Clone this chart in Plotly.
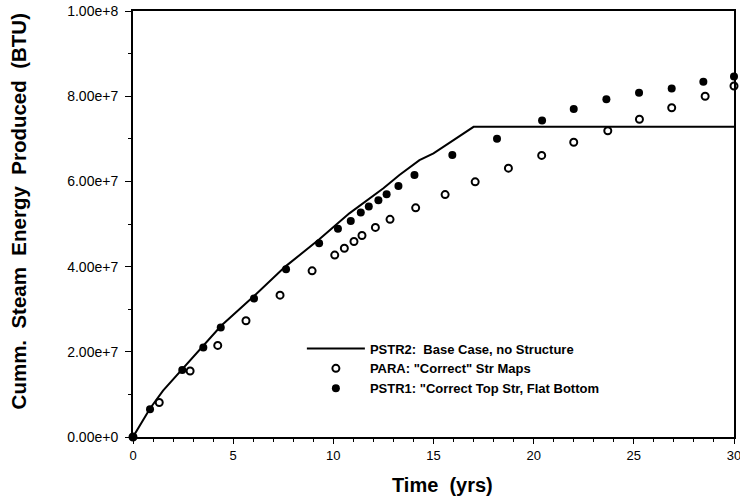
import plotly.graph_objects as go

# ---- data (energy in units of 1e6 BTU) ----
pstr2_time = [0, 0.85, 1.5, 2.5, 3.5, 4.4, 6.0, 7.6, 9.3, 10.8, 12.5, 13.3, 14.3, 15.0, 16.0, 17.0, 30.0]
pstr2_energy = [0, 6.7, 10.9, 16.2, 21.4, 26.1, 32.9, 40.0, 46.4, 52.5, 58.4, 61.5, 65.0, 66.6, 69.7, 72.8, 72.8]

para_time = [0, 1.31, 2.85, 4.23, 5.64, 7.34, 8.94, 10.07, 10.55, 11.03, 11.43, 12.1, 12.83,
             14.11, 15.58, 17.08, 18.74, 20.4, 22.0, 23.7, 25.28, 26.89, 28.56, 30.0]
para_energy = [0, 8.1, 15.5, 21.5, 27.3, 33.3, 39.0, 42.7, 44.3, 45.9, 47.3, 49.2, 51.1,
               53.8, 56.9, 59.9, 63.1, 66.1, 69.2, 71.9, 74.6, 77.3, 80.0, 82.4]

pstr1_time = [0, 0.85, 2.46, 3.51, 4.38, 6.04, 7.64, 9.29, 10.23, 10.87, 11.37, 11.77, 12.25,
              12.66, 13.25, 14.05, 15.94, 18.17, 20.42, 22.0, 23.63, 25.26, 26.89, 28.47, 30.0]
pstr1_energy = [0, 6.5, 15.7, 21.0, 25.7, 32.5, 39.4, 45.5, 48.9, 50.7, 52.7, 54.1, 55.6,
                57.0, 58.9, 61.5, 66.2, 70.0, 74.3, 77.0, 79.3, 80.8, 81.8, 83.4, 84.6]

y_tick_vals = [0, 2e7, 4e7, 6e7, 8e7, 1e8]
y_tick_text = ["0.00e+0", "2.00e+7", "4.00e+7", "6.00e+7", "8.00e+7", "1.00e+8"]
x_tick_vals = [0, 5, 10, 15, 20, 25, 30]

names = ["PSTR2:  Base Case, no Structure",
         'PARA: "Correct" Str Maps',
         'PSTR1: "Correct Top Str, Flat Bottom']

FONT = "Arial, Liberation Sans, Helvetica, sans-serif"
scale = 1e6

fig = go.Figure()
fig.add_trace(go.Scatter(
    x=pstr2_time, y=[v * scale for v in pstr2_energy], mode="lines",
    line=dict(color="black", width=2), name=names[0], cliponaxis=False))
fig.add_trace(go.Scatter(
    x=para_time, y=[v * scale for v in para_energy], mode="markers",
    marker=dict(symbol="circle-open", size=7, color="black", line=dict(width=2)),
    name=names[1], cliponaxis=False))
fig.add_trace(go.Scatter(
    x=pstr1_time, y=[v * scale for v in pstr1_energy], mode="markers",
    marker=dict(symbol="circle", size=8, color="black"),
    name=names[2], cliponaxis=False))

fig.update_layout(
    width=740, height=501,
    margin=dict(l=133, r=6, t=11, b=64, autoexpand=False),
    paper_bgcolor="white", plot_bgcolor="white",
    font=dict(family=FONT, color="black"),
    showlegend=True,
    legend=dict(x=0.281, y=0.243, xanchor="left", yanchor="top",
                bgcolor="rgba(0,0,0,0)", itemwidth=58,
                font=dict(family=FONT, size=13, color="black", weight="bold"),
                tracegroupgap=0),
    xaxis=dict(range=[0, 30], showline=True, linecolor="black", linewidth=2,
               mirror=True, showgrid=False, zeroline=False, automargin=False,
               tickmode="array", tickvals=x_tick_vals, ticklabeloverflow="allow",
               ticks="outside", ticklen=5, tickwidth=1, tickcolor="black",
               tickfont=dict(size=13, family=FONT),
               minor=dict(dtick=1, ticks="outside", ticklen=3, tickcolor="black", showgrid=False)),
    yaxis=dict(range=[0, 1e8], showline=True, linecolor="black", linewidth=2,
               mirror=True, showgrid=False, zeroline=False, automargin=False,
               tickmode="array", tickvals=y_tick_vals, ticktext=y_tick_text,
               ticklabeloverflow="allow",
               ticks="outside", ticklen=6, tickwidth=1, tickcolor="black",
               ticklabelstandoff=4,
               tickfont=dict(size=14, family=FONT),
               minor=dict(dtick=1e7, ticks="outside", ticklen=3, tickcolor="black", showgrid=False)),
    annotations=[
        dict(text="Cumm.  Steam  Energy  Produced  (BTU)", xref="paper", yref="paper",
             x=-0.191, y=0.53, xanchor="center", yanchor="middle", textangle=-90,
             showarrow=False, font=dict(family=FONT, size=20.5, weight="bold")),
        dict(text="Time  (yrs)", xref="paper", yref="paper",
             x=0.515, y=-0.113, xanchor="center", yanchor="middle",
             showarrow=False, font=dict(family=FONT, size=20, weight="bold")),
    ],
)

fig.write_html("out.html", config={"displayModeBar": False},
               post_script="document.body.style.margin='0';")
